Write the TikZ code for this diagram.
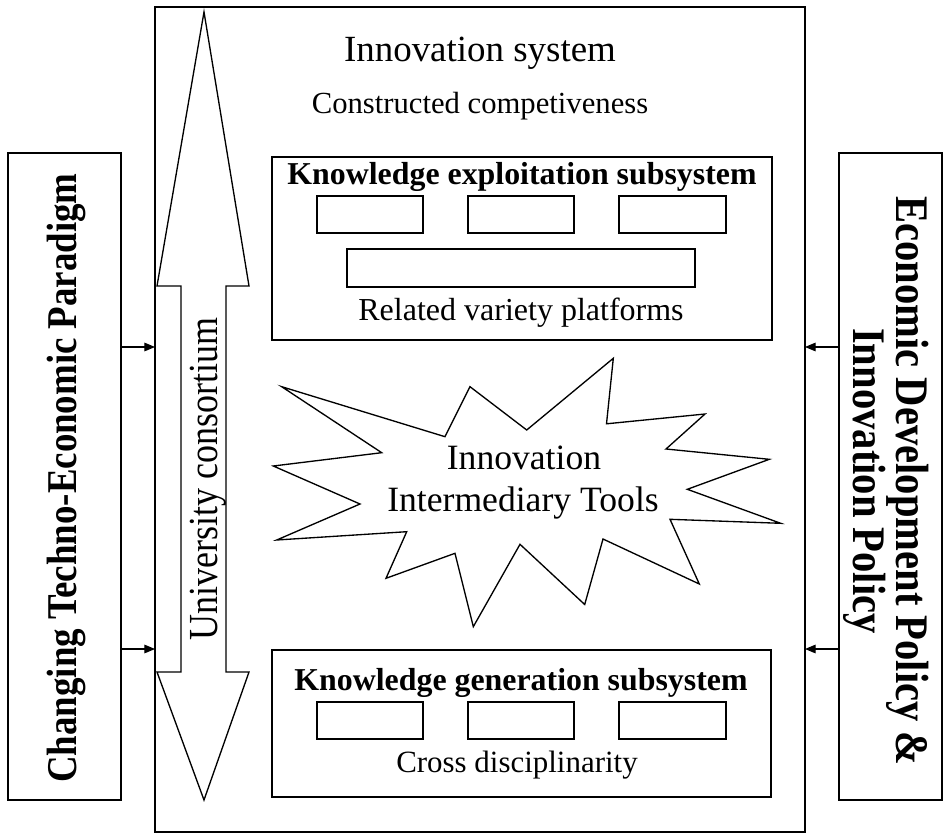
\documentclass[tikz,border=0pt]{standalone}
\usepackage{fontspec}
\setmainfont{Liberation Serif}
\newfontfamily\vfont[FakeStretch=0.87]{Liberation Serif}
\usetikzlibrary{arrows.meta}
\begin{document}
\begin{tikzpicture}[x=0.75pt,y=-0.75pt,
  wh/.style 2 args={minimum width=#1*0.75pt, minimum height=#2*0.75pt},
  frame/.style={draw, line width=1.2pt, inner sep=0pt, outer sep=0pt},
  subbox/.style={draw, line width=1.4pt, inner sep=0pt, outer sep=0pt},
  cell/.style={draw, line width=1pt, inner sep=0pt, outer sep=0pt},
  lbl/.style={inner sep=0pt, align=center},
  shapeline/.style={draw, line width=1pt, line join=miter},
  arr/.style={-{Triangle[length=8pt,width=6.5pt]}, line width=0.8pt}]
\useasboundingbox (0,0) rectangle (945,838);

% outer frames
\node[frame, wh={650}{825}] (main) at (480,419.5) {};
\node[frame, wh={113}{647}] (left) at (64.5,476.5) {};
\node[frame, wh={103}{647}] (right) at (890.5,476.5) {};

% titles
\node[lbl, anchor=base, font=\fontsize{27.7pt}{32pt}\selectfont] (title) at (480,62) {Innovation system};
\node[lbl, anchor=base, font=\fontsize{23pt}{27pt}\selectfont] (cc) at (480,114) {Constructed competiveness};

% exploitation subsystem
\node[subbox, wh={500}{183}] (exp) at (522,248.5) {};
\node[lbl, anchor=base, font=\bfseries\fontsize{23.9pt}{28pt}\selectfont] (expt) at (522,185) {Knowledge exploitation subsystem};
\node[cell, wh={106}{37}] (e1) at (370,214.5) {};
\node[cell, wh={106}{37}] (e2) at (521,214.5) {};
\node[cell, wh={107}{37}] (e3) at (672.5,214.5) {};
\node[cell, wh={348}{38}] (e4) at (521,268) {};
\node[lbl, anchor=base, font=\fontsize{24pt}{28pt}\selectfont] (rvp) at (521,320) {Related variety platforms};

% generation subsystem
\node[subbox, wh={499}{147}] (gen) at (521.5,723.5) {};
\node[lbl, anchor=base, font=\bfseries\fontsize{23.9pt}{28pt}\selectfont] (gent) at (521,690) {Knowledge generation subsystem};
\node[cell, wh={106}{37}] (g1) at (370,720.5) {};
\node[cell, wh={106}{37}] (g2) at (521,720.5) {};
\node[cell, wh={107}{37}] (g3) at (672.5,720.5) {};
\node[lbl, anchor=base, font=\fontsize{23.2pt}{28pt}\selectfont] (cd) at (517,772) {Cross disciplinarity};

% double arrow (university consortium)
\draw[shapeline] (204,12) -- (249,286) -- (226,286) -- (226,672) -- (249,672)
  -- (204,800) -- (157,672) -- (181,672) -- (181,286) -- (157,286) -- cycle;
\node[lbl, anchor=base, rotate=90, font=\vfont\fontsize{31pt}{36pt}\selectfont] (uc) at (217,479) {University consortium};

% starburst
\draw[shapeline] (281.7,386.7) -- (445,436.7) -- (470,386.7) -- (526.7,430)
  -- (613.3,358.3) -- (606.5,423.8) -- (705,414) -- (666,449) -- (769.3,459.3)
  -- (687.3,489.3) -- (780.7,523.3) -- (670,519.3) -- (699.3,584) -- (603,539)
  -- (584.7,604.5) -- (520,544.3) -- (473.3,626.7) -- (455,553.3) -- (386,578.3)
  -- (406.7,531.7) -- (276.7,540) -- (360,504) -- (273.3,466) -- (381.7,452.7) -- cycle;
\node[lbl, anchor=base, font=\fontsize{26.7pt}{32pt}\selectfont] (iit1) at (524,469) {Innovation};
\node[lbl, anchor=base, font=\fontsize{26.7pt}{32pt}\selectfont] (iit2) at (523,511) {Intermediary Tools};

% side labels
\node[lbl, rotate=90, font=\vfont\bfseries\fontsize{31.8pt}{36pt}\selectfont] (ltext) at (66,478) {Changing Techno-Economic Paradigm};
\node[lbl, rotate=-90, font=\vfont\bfseries\fontsize{35pt}{32pt}\selectfont] (rtext) at (886,481) {Economic Development Policy \&\\ Innovation Policy};

% connectors
\coordinate (ya) at (0,347);
\coordinate (yb) at (0,649);
\draw[arr] (left.east |- ya) -- (main.west |- ya);
\draw[arr] (left.east |- yb) -- (main.west |- yb);
\draw[arr] (right.west |- ya) -- (main.east |- ya);
\draw[arr] (right.west |- yb) -- (main.east |- yb);
\end{tikzpicture}
\end{document}
